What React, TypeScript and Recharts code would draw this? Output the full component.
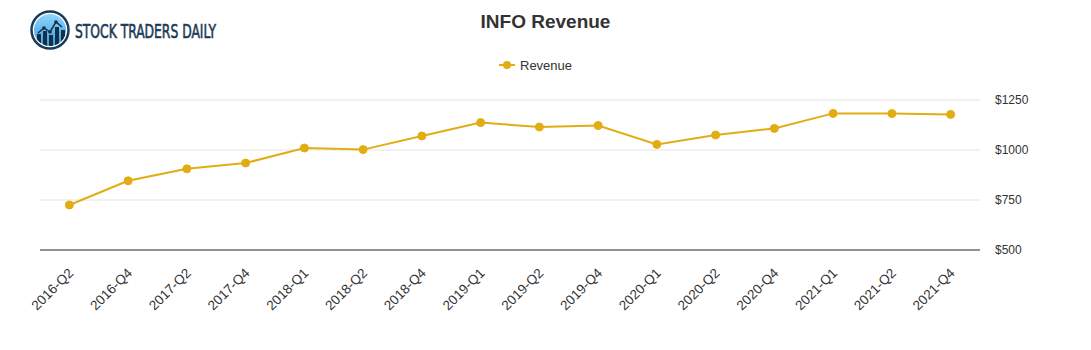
import React from "react";
import { LineChart, Line, XAxis, YAxis, CartesianGrid } from "recharts";

const quarters = [
  "2016-Q2", "2016-Q4", "2017-Q2", "2017-Q4", "2018-Q1", "2018-Q2", "2018-Q4", "2019-Q1",
  "2019-Q2", "2019-Q4", "2020-Q1", "2020-Q2", "2020-Q4", "2021-Q1", "2021-Q2", "2021-Q4",
];
const revenue = [725, 846, 906, 935, 1010, 1002, 1070, 1137, 1115, 1122, 1028, 1075, 1108, 1183, 1182, 1178];
const yTicks = [500, 750, 1000, 1250];

const data = quarters.map((q, i) => ({ quarter: q, revenue: revenue[i] }));

const LINE_COLOR = "#e2ad13";

const RotatedTick = (props: any) => {
  const { x, y, payload } = props;
  return (
    <g transform={`translate(${x + 2},${y + 13})`}>
      <text
        textAnchor="end"
        transform="rotate(-45)"
        fontSize={13.5}
        fill="#333"
        fontFamily="Liberation Sans, Arial, sans-serif"
        dy={4}
      >
        {payload.value}
      </text>
    </g>
  );
};

const Logo = () => (
  <svg width={340} height={60} style={{ position: "absolute", left: 0, top: 0 }}>
    <defs>
      <linearGradient id="lg" x1="0" y1="0" x2="0" y2="1">
        <stop offset="0%" stopColor="#8fd6fb" />
        <stop offset="100%" stopColor="#3a9be0" />
      </linearGradient>
      <clipPath id="cc">
        <circle cx={50} cy={30} r={16} />
      </clipPath>
    </defs>
    <circle cx={50} cy={30} r={18.5} fill="#fff" stroke="#1b3a55" strokeWidth={2.5} />
    <circle cx={50} cy={30} r={16} fill="url(#lg)" />
    <g clipPath="url(#cc)" fill="#143049">
      <rect x={37} y={34} width={4} height={14} />
      <rect x={43} y={31} width={4} height={17} />
      <rect x={49} y={35} width={4} height={13} />
      <rect x={55} y={27} width={4} height={21} />
      <rect x={61} y={30} width={4} height={18} />
    </g>
    <polyline points="38,33 44,28 50,32 56,22 62,27" fill="none" stroke="#143049" strokeWidth={1.5} />
    <g fill="#143049">
      <circle cx={44} cy={28} r={1.8} />
      <circle cx={50} cy={32} r={1.8} />
      <circle cx={56} cy={22} r={1.8} />
    </g>
    <text
      x={75}
      y={38}
      fontSize={20}
      fill="#1b3a55"
      stroke="#1b3a55"
      strokeWidth={0.6}
      fontFamily="DejaVu Sans Condensed, Liberation Sans Narrow, sans-serif"
      textLength={141}
      lengthAdjust="spacingAndGlyphs"
    >
      STOCK TRADERS DAILY
    </text>
  </svg>
);

export default function App() {
  return (
    <div
      style={{
        position: "absolute",
        left: 0,
        top: 0,
        width: 1091,
        height: 350,
        background: "#fff",
        fontFamily: "Liberation Sans, Arial, sans-serif",
      }}
    >
      <Logo />
      <div
        style={{
          position: "absolute",
          left: 0,
          width: 1091,
          top: 11,
          textAlign: "center",
          fontSize: 19,
          fontWeight: "bold",
          color: "#333",
        }}
      >
        INFO Revenue
      </div>
      <div
        style={{
          position: "absolute",
          left: 499,
          top: 57,
          display: "flex",
          alignItems: "center",
          fontSize: 13,
          color: "#333",
        }}
      >
        <svg width={16} height={16}>
          <line x1={0} y1={8} x2={16} y2={8} stroke={LINE_COLOR} strokeWidth={2} />
          <circle cx={8} cy={8} r={4} fill={LINE_COLOR} />
        </svg>
        <span style={{ marginLeft: 5 }}>Revenue</span>
      </div>
      <LineChart
        width={1091}
        height={350}
        data={data}
        margin={{ top: 100, right: 51, bottom: 40, left: 40 }}
      >
        <CartesianGrid vertical={false} stroke="#e4e4e4" />
        <XAxis
          dataKey="quarter"
          scale="band"
          interval={0}
          height={60}
          tick={<RotatedTick />}
          tickLine={false}
          axisLine={{ stroke: "#333", strokeWidth: 1 }}
        />
        <YAxis
          orientation="right"
          domain={[500, 1250]}
          ticks={yTicks}
          width={60}
          axisLine={false}
          tickLine={false}
          tickFormatter={(v: number) => `$${v}`}
          tick={{ fontSize: 12, fill: "#333", textAnchor: "start", dx: 7 }}
        />
        <Line
          type="linear"
          dataKey="revenue"
          stroke={LINE_COLOR}
          strokeWidth={2}
          dot={{ r: 4, fill: LINE_COLOR, stroke: LINE_COLOR, strokeWidth: 1 }}
          isAnimationActive={false}
        />
      </LineChart>
    </div>
  );
}
